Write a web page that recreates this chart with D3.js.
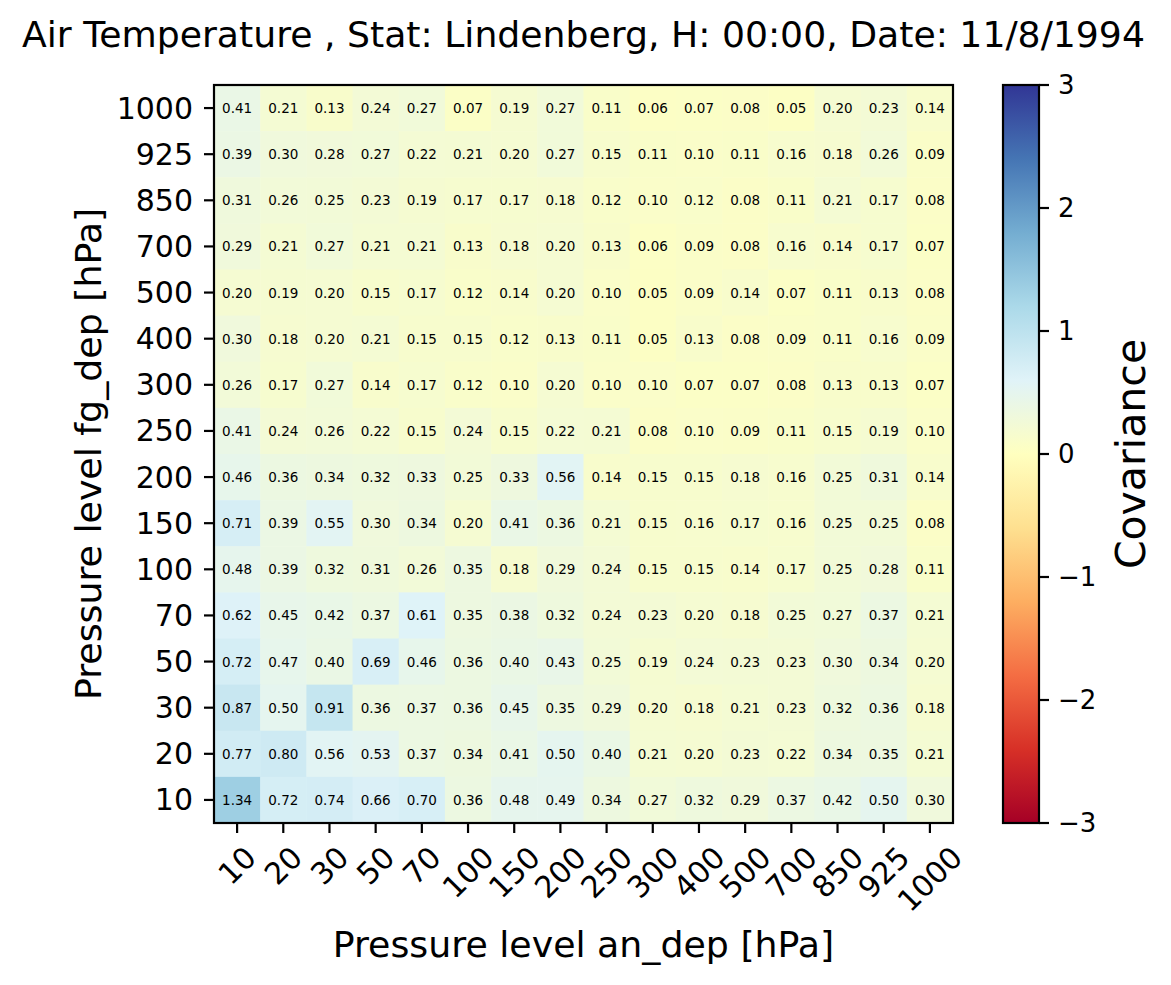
<!DOCTYPE html>
<html><head><meta charset="utf-8">
<script src="https://cdn.jsdelivr.net/npm/d3@7"></script>
<style>body{margin:0;background:#fff}svg{display:block;font-family:"DejaVu Sans",sans-serif}</style>
</head><body>
<svg id="c" width="1171" height="985"></svg>
<script>
const xLevels = ["10","20","30","50","70","100","150","200","250","300","400","500","700","850","925","1000"];
const yLevels = ["1000","925","850","700","500","400","300","250","200","150","100","70","50","30","20","10"];
const values = [
[0.41,0.21,0.13,0.24,0.27,0.07,0.19,0.27,0.11,0.06,0.07,0.08,0.05,0.20,0.23,0.14],
[0.39,0.30,0.28,0.27,0.22,0.21,0.20,0.27,0.15,0.11,0.10,0.11,0.16,0.18,0.26,0.09],
[0.31,0.26,0.25,0.23,0.19,0.17,0.17,0.18,0.12,0.10,0.12,0.08,0.11,0.21,0.17,0.08],
[0.29,0.21,0.27,0.21,0.21,0.13,0.18,0.20,0.13,0.06,0.09,0.08,0.16,0.14,0.17,0.07],
[0.20,0.19,0.20,0.15,0.17,0.12,0.14,0.20,0.10,0.05,0.09,0.14,0.07,0.11,0.13,0.08],
[0.30,0.18,0.20,0.21,0.15,0.15,0.12,0.13,0.11,0.05,0.13,0.08,0.09,0.11,0.16,0.09],
[0.26,0.17,0.27,0.14,0.17,0.12,0.10,0.20,0.10,0.10,0.07,0.07,0.08,0.13,0.13,0.07],
[0.41,0.24,0.26,0.22,0.15,0.24,0.15,0.22,0.21,0.08,0.10,0.09,0.11,0.15,0.19,0.10],
[0.46,0.36,0.34,0.32,0.33,0.25,0.33,0.56,0.14,0.15,0.15,0.18,0.16,0.25,0.31,0.14],
[0.71,0.39,0.55,0.30,0.34,0.20,0.41,0.36,0.21,0.15,0.16,0.17,0.16,0.25,0.25,0.08],
[0.48,0.39,0.32,0.31,0.26,0.35,0.18,0.29,0.24,0.15,0.15,0.14,0.17,0.25,0.28,0.11],
[0.62,0.45,0.42,0.37,0.61,0.35,0.38,0.32,0.24,0.23,0.20,0.18,0.25,0.27,0.37,0.21],
[0.72,0.47,0.40,0.69,0.46,0.36,0.40,0.43,0.25,0.19,0.24,0.23,0.23,0.30,0.34,0.20],
[0.87,0.50,0.91,0.36,0.37,0.36,0.45,0.35,0.29,0.20,0.18,0.21,0.23,0.32,0.36,0.18],
[0.77,0.80,0.56,0.53,0.37,0.34,0.41,0.50,0.40,0.21,0.20,0.23,0.22,0.34,0.35,0.21],
[1.34,0.72,0.74,0.66,0.70,0.36,0.48,0.49,0.34,0.27,0.32,0.29,0.37,0.42,0.50,0.30]
];
const cbTicks = [3,2,1,0,-1,-2,-3];
const titleText = "Air Temperature , Stat: Lindenberg, H: 00:00, Date: 11/8/1994";
const xLabel = "Pressure level an_dep [hPa]";
const yLabel = "Pressure level fg_dep [hPa]";
const cbLabel = "Covariance";
const vmin = -3, vmax = 3;
const rdylbu = ["#a50026","#d73027","#f46d43","#fdae61","#fee090","#ffffbf","#e0f3f8","#abd9e9","#74add1","#4575b4","#313695"];

const svg = d3.select("#c");
const L = 214, R = 953, T = 85, B = 823;
const x = d3.scaleBand().domain(xLevels).range([L, R]);
const y = d3.scaleBand().domain(yLevels).range([T, B]);
const color = d3.scaleLinear().domain(d3.range(11).map(i => vmin + i*(vmax-vmin)/10)).range(rdylbu).interpolate(d3.interpolateRgb).clamp(true);

const cells = [];
values.forEach((row, i) => row.forEach((v, j) => cells.push({r: yLevels[i], c: xLevels[j], v})));

svg.append("g").selectAll("rect").data(cells).join("rect")
  .attr("x", d => x(d.c)).attr("y", d => y(d.r))
  .attr("width", x.bandwidth()+0.5).attr("height", y.bandwidth()+0.5)
  .attr("fill", d => color(d.v));

svg.append("g").selectAll("text").data(cells).join("text")
  .attr("x", d => x(d.c) + x.bandwidth()/2).attr("y", d => y(d.r) + y.bandwidth()/2)
  .attr("text-anchor","middle").attr("dominant-baseline","central")
  .attr("font-size", 13.5).attr("fill","#000")
  .text(d => d.v.toFixed(2));

// frame
svg.append("rect").attr("x", L).attr("y", T).attr("width", R-L).attr("height", B-T)
  .attr("fill","none").attr("stroke","#000").attr("stroke-width",2.2);

// y axis
const gy = svg.append("g");
yLevels.forEach(l => {
  const yy = y(l) + y.bandwidth()/2;
  gy.append("line").attr("x1", L-10).attr("x2", L).attr("y1", yy).attr("y2", yy).attr("stroke","#000").attr("stroke-width",2.2);
  gy.append("text").attr("x", L-21).attr("y", yy).attr("text-anchor","end").attr("dominant-baseline","central")
    .attr("font-size",30).text(l);
});
// x axis
const gx = svg.append("g");
xLevels.forEach(l => {
  const xx = x(l) + x.bandwidth()/2;
  gx.append("line").attr("x1", xx).attr("x2", xx).attr("y1", B).attr("y2", B+10).attr("stroke","#000").attr("stroke-width",2.2);
  const t = gx.append("text").attr("font-size",30).attr("text-anchor","middle").attr("dominant-baseline","central").text(l);
  const w = t.node().getComputedTextLength();
  const h = 30*0.95;
  const half = (w + h) * Math.SQRT1_2 / 2;
  const cy = B + 10 + 9 + half;
  t.attr("x", xx).attr("y", cy).attr("transform", `rotate(-45,${xx},${cy})`);
});

// labels
svg.append("text").attr("x", (L+R)/2).attr("y", 47).attr("text-anchor","middle").attr("font-size",36.2).text(titleText);
svg.append("text").attr("x", (L+R)/2).attr("y", 957).attr("text-anchor","middle").attr("font-size",36.3).text(xLabel);
svg.append("text").attr("transform", `translate(101,${(T+B)/2}) rotate(-90)`).attr("text-anchor","middle").attr("font-size",36.3).text(yLabel);

// colorbar
const CL = 1003, CR = 1039;
const cbScale = d3.scaleLinear().domain([vmin, vmax]).range([B, T]);
const grad = svg.append("defs").append("linearGradient").attr("id","g").attr("x1",0).attr("y1",1).attr("x2",0).attr("y2",0);
rdylbu.forEach((c,i) => grad.append("stop").attr("offset", i/10).attr("stop-color", c));
svg.append("rect").attr("x", CL).attr("y", T).attr("width", CR-CL).attr("height", B-T).attr("fill","url(#g)").attr("stroke","#000").attr("stroke-width",2.2);
cbTicks.forEach(v => {
  const yy = cbScale(v);
  svg.append("line").attr("x1", CR).attr("x2", CR+10).attr("y1", yy).attr("y2", yy).attr("stroke","#000").attr("stroke-width",2.2);
  svg.append("text").attr("x", CR+19).attr("y", yy).attr("dominant-baseline","central").attr("font-size",26)
    .text(v < 0 ? "\u2212" + Math.abs(v) : String(v));
});
svg.append("text").attr("transform", `translate(1145,${(T+B)/2}) rotate(-90)`).attr("text-anchor","middle").attr("font-size",41).text(cbLabel);
</script>
</body></html>
